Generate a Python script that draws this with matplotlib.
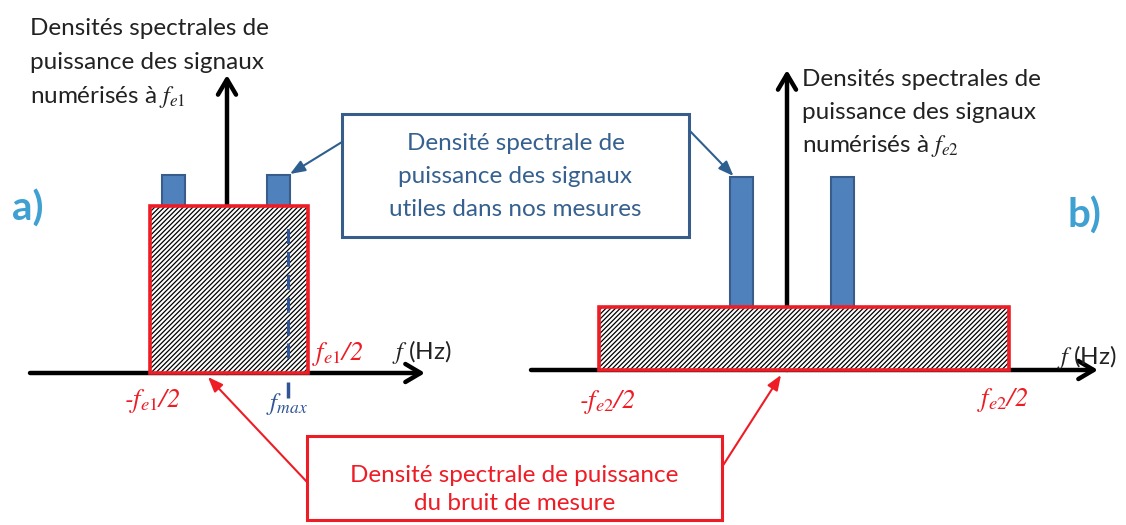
import matplotlib.pyplot as plt
from matplotlib.patches import Rectangle

plt.rcParams['font.family'] = ['Lato', 'DejaVu Sans']
plt.rcParams['mathtext.fontset'] = 'stix'
plt.rcParams['hatch.linewidth'] = 0.9

W, H = 1126, 525
PX = 10.0  # pixels per diagram unit (same frequency scale in both panels)

# panel a) : sampled at fe1 (diagram units, origin = axes crossing)
noise_a = (-7.7, 8.1)          # -fe1/2 , fe1/2
noise_level_a = 16.7
signal_a = [-5.3, 5.15]
signal_height_a = 19.8
fmax_a = 6.1
xaxis_a = (-19.7, 19.8)
yaxis_a = 29.8

# panel b) : sampled at fe2
noise_b = (-18.8, 22.2)        # -fe2/2 , fe2/2
noise_level_b = 6.3
signal_b = [-4.6, 5.5]
signal_height_b = 19.3
xaxis_b = (-25.6, 31.1)
yaxis_b = 30.0

bar_width = 2.3

# where the callout arrows land (panel units)
noise_arrow_a = (-1.9, -0.4)
noise_arrow_b = (-0.6, -0.5)

title_a = ["Densités spectrales de", "puissance des signaux", "numérisés à $f_{e1}$"]
title_b = ["Densités spectrales de", "puissance des signaux", "numérisés à $f_{e2}$"]
signal_note = ["Densité spectrale de", "puissance des signaux", "utiles dans nos mesures"]
noise_note = ["Densité spectrale de puissance", "du bruit de mesure"]

BLUE = '#4f81bd'
BLUE_EDGE = '#385d8a'
BLUE_TXT = '#35608f'
RED = '#ee1c25'
LABEL = '#3fa0d2'
FS = 17.5


def panel_axes(fig, ox, oy):
    """Full-figure axes whose origin sits at pixel (ox, oy)."""
    ax = fig.add_axes([0, 0, 1, 1])
    ax.set_xlim(-ox / PX, (W - ox) / PX)
    ax.set_ylim((oy - H) / PX, oy / PX)
    ax.axis('off')
    return ax


def draw_panel(ax, xaxis, yaxis, noise, level, signal, height):
    """Axes arrows, signal bars and the hatched noise band."""
    arrow = dict(arrowstyle='->,head_length=1.1,head_width=0.65', lw=3.2,
                 color='black', shrinkA=0, shrinkB=0)
    ax.annotate('', xy=(xaxis[1], 0), xytext=(xaxis[0], 0), arrowprops=arrow, zorder=1)
    ax.annotate('', xy=(0, yaxis), xytext=(0, 0), arrowprops=arrow, zorder=1)

    ax.bar(signal, height, width=bar_width, color=BLUE, edgecolor=BLUE_EDGE,
           lw=1.5, zorder=2)

    # hatch and red border drawn separately so the hatch stays black
    ax.add_patch(Rectangle((noise[0], 0), noise[1] - noise[0], level, facecolor='white',
                           edgecolor='black', hatch='///////', lw=0, zorder=3))
    ax.add_patch(Rectangle((noise[0], 0), noise[1] - noise[0], level, fill=False,
                           edgecolor=RED, lw=2.6, zorder=4))


def freq_label(ax, x, y, s, ha='center'):
    """Red italic -fe/2 , fe/2 marks."""
    ax.text(x, y, s, color=RED, fontsize=19, family='STIXGeneral', style='italic',
            ha=ha, va='center')


fig = plt.figure(figsize=(W / 100, H / 100), dpi=100)

# ---- panel a
ax_a = panel_axes(fig, 227, 373)
draw_panel(ax_a, xaxis_a, yaxis_a, noise_a, noise_level_a, signal_a, signal_height_a)
ax_a.plot([fmax_a, fmax_a], [1.5, 14.8], color='#2f5597', lw=2.2, ls=(0, (4.9, 2.6)), zorder=5)
ax_a.plot([fmax_a, fmax_a], [-0.9, -2.5], color='#2f5597', lw=2.5, solid_capstyle='butt')
freq_label(ax_a, noise_a[0] + 0.2, -2.8, '-$f_{e1}$/2')
freq_label(ax_a, noise_a[1] + 0.4, 1.9, '$f_{e1}$/2', ha='left')
ax_a.text(fmax_a - 0.1, -3.1, '$f_{max}$', color='#2f5597', fontsize=18, ha='center', va='center')
ax_a.text(16.5, 2.1, '$f$ (Hz)', fontsize=FS, color='#222222', ha='left', va='center')

# ---- panel b
ax_b = panel_axes(fig, 787, 370)
draw_panel(ax_b, xaxis_b, yaxis_b, noise_b, noise_level_b, signal_b, signal_height_b)
freq_label(ax_b, noise_b[0] + 0.8, -3.2, '-$f_{e2}$/2')
freq_label(ax_b, noise_b[1] - 0.6, -3.0, '$f_{e2}$/2')
ax_b.text(27.0, 1.3, '$f$ (Hz)', fontsize=FS, color='#222222', ha='left', va='center')

# ---- overlay in pixel coordinates: titles, labels and callouts
ax_o = fig.add_axes([0, 0, 1, 1])
ax_o.set_xlim(0, W)
ax_o.set_ylim(H, 0)
ax_o.axis('off')

for i, line in enumerate(title_a):
    ax_o.text(30, 35 + 34 * i, line, fontsize=FS, color='#222222', va='baseline')
for i, line in enumerate(title_b):
    ax_o.text(802, 86 + 33 * i, line, fontsize=FS, color='#222222', va='baseline')

ax_o.text(12, 209, 'a)', fontsize=29, fontweight='bold', color=LABEL, va='center')
ax_o.text(1068, 216, 'b)', fontsize=29, fontweight='bold', color=LABEL, va='center')

# signal callout
ax_o.add_patch(Rectangle((342, 114), 347, 123, facecolor='white', edgecolor=BLUE_EDGE, lw=2.2))
for i, line in enumerate(signal_note):
    ax_o.text(515.5, 150 + 33 * i, line, fontsize=FS, color=BLUE_TXT, ha='center', va='baseline')
blue_arrow = dict(arrowstyle='-|>,head_length=0.9,head_width=0.35', color='#2f5f8f', lw=1.5,
                  shrinkA=0, shrinkB=0)
ax_o.annotate('', xy=(signal_a[1] + bar_width / 2, signal_height_a + 0.1), xycoords=ax_a.transData,
              xytext=(342, 142), textcoords='data', arrowprops=blue_arrow)
ax_o.annotate('', xy=(signal_b[0] - bar_width / 2 + 0.4, signal_height_b + 0.1),
              xycoords=ax_b.transData, xytext=(689, 130), textcoords='data', arrowprops=blue_arrow)

# noise callout
ax_o.add_patch(Rectangle((307, 436), 415, 84, facecolor='white', edgecolor=RED, lw=2.2))
for i, line in enumerate(noise_note):
    ax_o.text(514.5, 482 + 28 * i, line, fontsize=FS, color=RED, ha='center', va='baseline')
red_arrow = dict(arrowstyle='-|>,head_length=0.9,head_width=0.35', color=RED, lw=1.5,
                 shrinkA=0, shrinkB=0)
ax_o.annotate('', xy=noise_arrow_a, xycoords=ax_a.transData, xytext=(307, 482),
              textcoords='data', arrowprops=red_arrow)
ax_o.annotate('', xy=noise_arrow_b, xycoords=ax_b.transData, xytext=(722, 467),
              textcoords='data', arrowprops=red_arrow)

fig.savefig('out.png', dpi=100)
